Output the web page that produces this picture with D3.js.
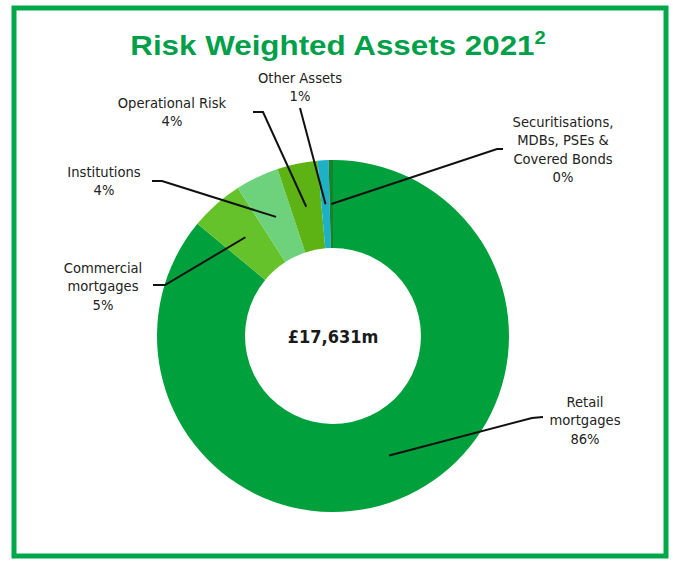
<!DOCTYPE html>
<html><head><meta charset="utf-8">
<script src="https://cdn.jsdelivr.net/npm/d3@7"></script>
<style>body{margin:0;background:#fff}svg{display:block}</style>
</head><body>
<svg id="c" width="673" height="563"></svg>
<script>
const categories = ["Retail mortgages","Commercial mortgages","Institutions","Operational Risk","Other Assets","Securitisations, MDBs, PSEs & Covered Bonds"];
const values = [86.0, 4.9, 4.0, 3.7, 1.0, 0.4];
const pctLabels = ["86%","5%","4%","4%","1%","0%"];
const labelLines = [["Retail","mortgages","86%"],["Commercial","mortgages","5%"],["Institutions","4%"],["Operational Risk","4%"],["Other Assets","1%"],["Securitisations,","MDBs, PSEs &","Covered Bonds","0%"]];
const colors = ["#00a03c","#66c22a","#6dd27b","#5db314","#1eb0c6","#15822c"];
const totalLabel = "£17,631m";
const titleText = "Risk Weighted Assets 2021";
const titleSup = "2";

// layout (positions) kept separate from data
const layout = [
  {tx:585, ty:402, elbow:[[543,417],[532,418]]},
  {tx:103, ty:268, elbow:[[153,285],[165,285]]},
  {tx:104, ty:172, elbow:[[152,181],[162,181]]},
  {tx:172, ty:103, elbow:[[253,112],[263,112]]},
  {tx:300, ty:78,  elbow:[[300,108]]},
  {tx:563, ty:122, elbow:[[503,149],[497,149]]}
];

const svg = d3.select("#c");
const cx = 333, cy = 336, rO = 176, rI = 88;

svg.append("rect").attr("x",14).attr("y",8).attr("width",652).attr("height",548)
  .attr("fill","none").attr("stroke","#00a84a").attr("stroke-width",5);

const title = svg.append("text").attr("x",0).attr("y",0)
  .attr("transform","translate(338,55) scale(1.12,1)")
  .attr("text-anchor","middle").attr("font-family","Liberation Sans, Arial, sans-serif")
  .attr("font-weight","bold").attr("font-size",28).attr("fill","#00a04a");
title.append("tspan").text(titleText);
title.append("tspan").attr("dy",-11).attr("font-size",18).text(titleSup);

const pie = d3.pie().sort(null).value(d=>d);
const arcs = pie(values);
const arc = d3.arc().innerRadius(rI).outerRadius(rO);
const mid = d3.arc().innerRadius((rI+rO)/2).outerRadius((rI+rO)/2);

const g = svg.append("g").attr("transform",`translate(${cx},${cy})`);
g.selectAll("path").data(arcs).join("path").attr("d",arc).attr("fill",(d,i)=>colors[i]);

// leader lines
arcs.forEach((a,i)=>{
  const c = mid.centroid(a);
  const pts = layout[i].elbow.concat([[cx+c[0],cy+c[1]]]);
  svg.append("path").attr("d",d3.line()(pts)).attr("fill","none")
    .attr("stroke","#111").attr("stroke-width",2);
});

// labels
labelLines.forEach((lines,i)=>{
  const t = svg.append("text").attr("text-anchor","middle")
    .attr("font-family","DejaVu Sans Condensed, DejaVu Sans, sans-serif")
    .attr("font-size",14.6).attr("fill","#222");
  lines.forEach((ln,j)=>{
    t.append("tspan").attr("x",layout[i].tx).attr("y",layout[i].ty+5+j*18.3).text(ln);
  });
});

svg.append("text").attr("x",cx).attr("y",cy+7).attr("text-anchor","middle")
  .attr("font-family","DejaVu Sans Condensed, DejaVu Sans, sans-serif")
  .attr("font-weight","bold").attr("font-size",18).attr("fill","#1a1a1a").text(totalLabel);
</script>
</body></html>
